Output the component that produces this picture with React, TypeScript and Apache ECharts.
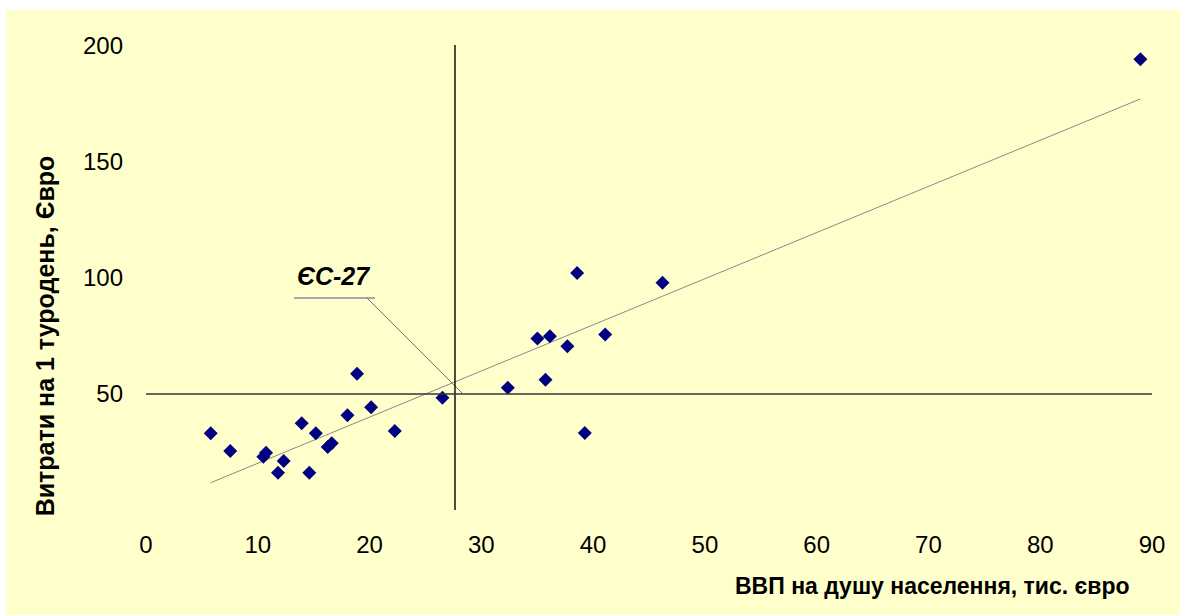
import React, { useEffect, useRef } from "react";
import * as echarts from "echarts";

// GDP per capita (thousand euro) vs spending per tourist-day (euro)
const gdpPerCapita = [
  5.79, 7.54, 10.74, 10.5, 12.32, 11.81, 13.93, 15.19, 14.61, 18.88, 16.62, 16.26, 18.02,
  20.14, 22.26, 26.52, 32.37, 38.57, 46.21, 35.02, 36.13, 37.7, 41.08, 35.74, 39.26, 88.96,
];
const spendPerDay = [
  33.0, 25.4, 24.6, 22.9, 21.1, 16.0, 37.3, 33.0, 16.0, 58.6, 28.7, 27.1, 40.7,
  44.2, 34.0, 48.3, 52.6, 101.9, 97.7, 73.8, 74.7, 70.4, 75.5, 56.0, 33.1, 193.9,
];
const euAvgGdp = 27.6;
const euAvgSpend = 50;
const xTicks = [0, 10, 20, 30, 40, 50, 60, 70, 80, 90];
const yTicks = [50, 100, 150, 200];
const xTitle = "ВВП на душу населення, тис. євро";
const yTitle = "Витрати на 1 туродень, Євро";
const euLabel = "ЄС-27";

const FONT = "'Liberation Sans', Arial, sans-serif";

function regression(xs: number[], ys: number[]) {
  const n = xs.length;
  const mx = xs.reduce((a, b) => a + b, 0) / n;
  const my = ys.reduce((a, b) => a + b, 0) / n;
  let sxy = 0;
  let sxx = 0;
  for (let i = 0; i < n; i++) {
    sxy += (xs[i] - mx) * (ys[i] - my);
    sxx += (xs[i] - mx) * (xs[i] - mx);
  }
  const slope = sxy / sxx;
  return { slope, intercept: my - slope * mx };
}

export default function App() {
  const ref = useRef<HTMLDivElement>(null);
  useEffect(() => {
    if (!ref.current) return;
    const chart = echarts.init(ref.current, undefined, { renderer: "svg" });
    const pts = gdpPerCapita.map((x, i) => [x, spendPerDay[i]]);
    const { slope, intercept } = regression(gdpPerCapita, spendPerDay);
    const xMin = Math.min(...gdpPerCapita);
    const xMax = Math.max(...gdpPerCapita);
    const trend = [
      [xMin, intercept + slope * xMin],
      [xMax, intercept + slope * xMax],
    ];
    chart.setOption({
      animation: false,
      backgroundColor: "#FFFFCC",
      grid: { left: 140, right: 28, top: 35, bottom: 105 },
      xAxis: {
        type: "value",
        min: 0,
        max: 90,
        interval: 10,
        axisLine: { show: false },
        axisTick: { show: false },
        splitLine: { show: false },
        axisLabel: {
          margin: 22,
          fontSize: 24,
          color: "#000",
          fontFamily: FONT,
          formatter: (v: number) => (xTicks.includes(v) ? String(v) : ""),
        },
      },
      yAxis: {
        type: "value",
        min: 0,
        max: 200,
        interval: 50,
        axisLine: { show: false },
        axisTick: { show: false },
        splitLine: { show: false },
        axisLabel: {
          margin: 23,
          fontSize: 24,
          color: "#000",
          fontFamily: FONT,
          formatter: (v: number) => (yTicks.includes(v) ? String(v) : ""),
        },
      },
      series: [
        {
          type: "line",
          data: trend,
          symbol: "none",
          silent: true,
          lineStyle: { color: "#8a8a8a", width: 1 },
          z: 2,
        },
        {
          type: "scatter",
          data: pts,
          symbol: "diamond",
          symbolSize: 14,
          itemStyle: { color: "#000080", opacity: 1 },
          z: 3,
          markLine: {
            silent: true,
            symbol: "none",
            label: { show: false },
            data: [
              { xAxis: euAvgGdp, lineStyle: { color: "#111", width: 1.5, type: "solid" } },
              { yAxis: euAvgSpend, lineStyle: { color: "#333", width: 1.5, type: "solid" } },
            ],
          },
        },
      ],
      graphic: [
        {
          type: "text",
          x: 39,
          y: 326,
          rotation: Math.PI / 2,
          style: {
            text: yTitle,
            fill: "#000",
            font: `bold 25px ${FONT}`,
            align: "center",
            verticalAlign: "middle",
          },
        },
        {
          type: "text",
          left: 729,
          top: 564,
          style: { text: xTitle, fill: "#000", font: `bold 23px ${FONT}` },
        },
        {
          type: "text",
          left: 291,
          top: 253,
          style: { text: euLabel, fill: "#000", font: `italic bold 25px ${FONT}` },
        },
        {
          type: "line",
          shape: { x1: 288, y1: 288, x2: 369, y2: 288 },
          style: { stroke: "#a8a8a8", lineWidth: 2 },
        },
        {
          type: "line",
          shape: { x1: 361, y1: 288, x2: 456, y2: 383 },
          style: { stroke: "#707070", lineWidth: 1 },
        },
      ],
    });
    return () => chart.dispose();
  }, []);
  return (
    <div
      ref={ref}
      style={{ position: "absolute", left: 6, top: 10, width: 1174, height: 605 }}
    />
  );
}
